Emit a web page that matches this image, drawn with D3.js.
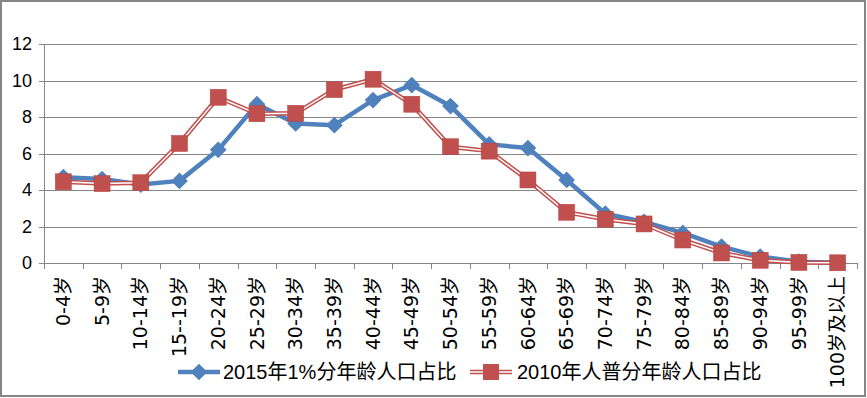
<!DOCTYPE html>
<html>
<head>
<meta charset="utf-8">
<script src="https://cdn.jsdelivr.net/npm/d3@7"></script>
<style>
  body { margin: 0; background: #fff; }
  svg { display: block; }
  text { font-family: "Liberation Sans", "Noto Sans CJK SC", sans-serif; fill: #000; }
</style>
</head>
<body>
<script>
var width = 867,
  height = 398;

// age groups
var ages = ["0-4岁", "5-9岁", "10-14岁", "15--19岁", "20-24岁", "25-29岁", "30-34岁",
  "35-39岁", "40-44岁", "45-49岁", "50-54岁", "55-59岁", "60-64岁", "65-69岁",
  "70-74岁", "75-79岁", "80-84岁", "85-89岁", "90-94岁", "95-99岁", "100岁及以上"];

var s2015 = [4.7, 4.6, 4.3, 4.5, 6.2, 8.7, 7.65, 7.55, 8.93, 9.75, 8.6, 6.5, 6.3, 4.55,
  2.7, 2.25, 1.65, 0.9, 0.35, 0.07, 0.02];
var s2010 = [4.45, 4.35, 4.4, 6.55, 9.08, 8.18, 8.2, 9.5, 10.07, 8.7, 6.37, 6.13, 4.55, 2.78,
  2.4, 2.14, 1.26, 0.55, 0.15, 0.03, 0.01];

var yTicks = [0, 2, 4, 6, 8, 10, 12];
var names = ["2015年1%分年龄人口占比", "2010年人普分年龄人口占比"];

var blue = "#4f81bd",
  red = "#c0504d";

var svg = d3
  .select("body")
  .append("svg")
  .attr("width", width)
  .attr("height", height);

// outer frame
svg.append("rect")
  .attr("x", 1).attr("y", 1)
  .attr("width", width - 3).attr("height", height - 3)
  .attr("fill", "#fff")
  .attr("stroke", "#868686")
  .attr("stroke-width", 2);

var x = d3.scaleBand().domain(ages).range([44, 857]);
var y = d3.scaleLinear().domain([0, 12]).range([263, 44]);

var cx = function(d, i) { return x(ages[i]) + x.bandwidth() / 2; };

// gridlines
svg.append("g")
  .selectAll("line")
  .data(yTicks)
  .join("line")
  .attr("x1", 39).attr("x2", 857)
  .attr("y1", d => Math.round(y(d)) + 0.5)
  .attr("y2", d => Math.round(y(d)) + 0.5)
  .attr("stroke", "#868686");

// y axis
svg.append("line")
  .attr("x1", 44.5).attr("x2", 44.5)
  .attr("y1", 44).attr("y2", 263)
  .attr("stroke", "#868686");

svg.append("g")
  .selectAll("text")
  .data(yTicks)
  .join("text")
  .attr("x", 32)
  .attr("y", d => y(d))
  .attr("dy", "0.35em")
  .attr("text-anchor", "end")
  .style("font-size", "18px")
  .text(d => d);

// x ticks
var bounds = ages.map(d => x(d)).concat([x.range()[1]]);
svg.append("g")
  .selectAll("line")
  .data(bounds)
  .join("line")
  .attr("x1", d => Math.round(d) + 0.5)
  .attr("x2", d => Math.round(d) + 0.5)
  .attr("y1", 263).attr("y2", 269)
  .attr("stroke", "#868686");

svg.append("g")
  .selectAll("text")
  .data(ages)
  .join("text")
  .attr("transform", d => "translate(" + (x(d) + x.bandwidth() / 2) + ",276) rotate(-90)")
  .attr("dy", "0.35em")
  .attr("text-anchor", "end")
  .style("font-family", "'DejaVu Sans', 'Noto Sans CJK SC', sans-serif")
  .style("font-size", "19px")
  .text(d => d);

var line = d3.line()
  .x(cx)
  .y(d => y(d));

// 2015 series
svg.append("path")
  .datum(s2015)
  .attr("d", line)
  .attr("fill", "none")
  .attr("stroke", blue)
  .attr("stroke-width", 4.5)
  .attr("stroke-linejoin", "round");

var diamond = d3.symbol().type(d3.symbolSquare).size(140);
svg.append("g")
  .selectAll("path")
  .data(s2015)
  .join("path")
  .attr("d", diamond)
  .attr("transform", (d, i) => "translate(" + cx(d, i) + "," + y(d) + ") rotate(45)")
  .attr("fill", blue);

// 2010 series - double line
svg.append("path")
  .datum(s2010)
  .attr("d", line)
  .attr("fill", "none")
  .attr("stroke", red)
  .attr("stroke-width", 4.5);
svg.append("path")
  .datum(s2010)
  .attr("d", line)
  .attr("fill", "none")
  .attr("stroke", "#fff")
  .attr("stroke-width", 1.5);

svg.append("g")
  .selectAll("rect")
  .data(s2010)
  .join("rect")
  .attr("x", (d, i) => cx(d, i) - 8)
  .attr("y", d => y(d) - 8)
  .attr("width", 16)
  .attr("height", 16)
  .attr("fill", red)
  .attr("stroke", "#b5413e")
  .attr("stroke-width", 0.5);

// legend
var leg = svg.append("g").attr("transform", "translate(0,372)");

leg.append("line")
  .attr("x1", 178).attr("x2", 220)
  .attr("stroke", blue).attr("stroke-width", 4.5);
leg.append("path")
  .attr("d", diamond)
  .attr("transform", "translate(199,0) rotate(45)")
  .attr("fill", blue);
leg.append("text")
  .attr("x", 223).attr("dy", "0.36em")
  .style("font-size", "20px")
  .text(names[0]);

leg.append("line")
  .attr("x1", 470).attr("x2", 512)
  .attr("stroke", red).attr("stroke-width", 4.5);
leg.append("line")
  .attr("x1", 470).attr("x2", 512)
  .attr("stroke", "#fff").attr("stroke-width", 1.5);
leg.append("rect")
  .attr("x", 483).attr("y", -8)
  .attr("width", 16).attr("height", 16)
  .attr("fill", red);
leg.append("text")
  .attr("x", 517).attr("dy", "0.36em")
  .style("font-size", "20px")
  .text(names[1]);
</script>
</body>
</html>
